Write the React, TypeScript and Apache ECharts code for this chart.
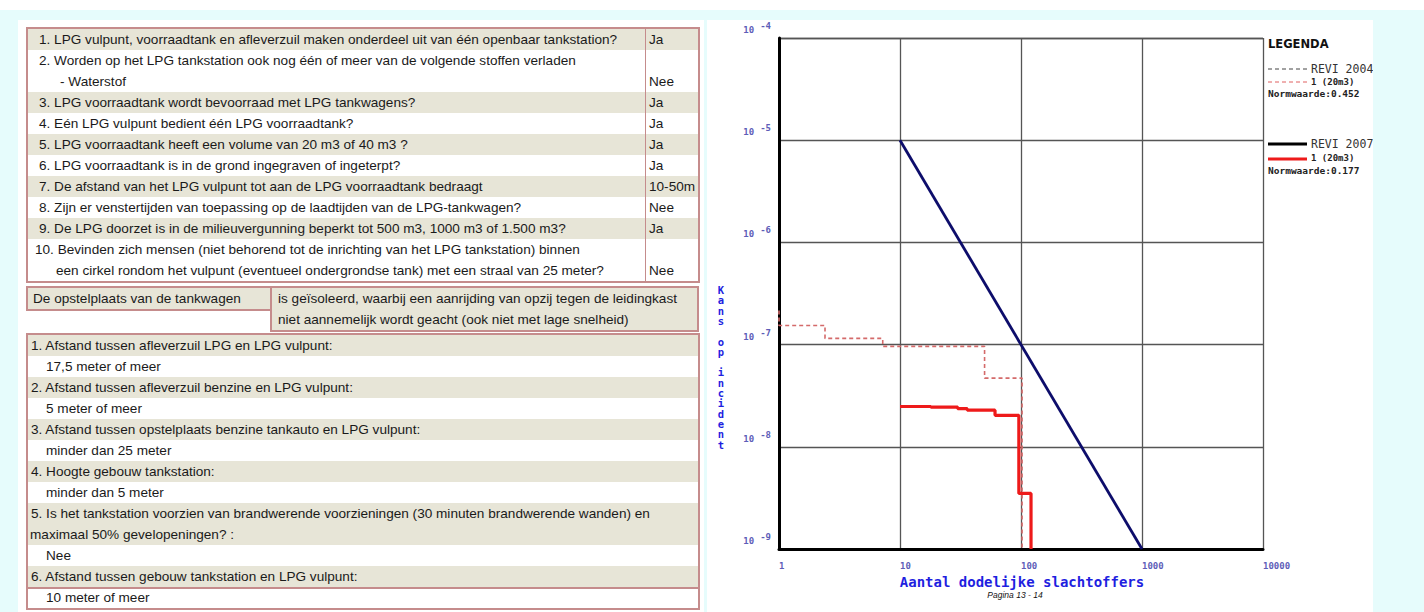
import React, { useEffect, useRef } from "react";
import * as echarts from "echarts";

// ---------- checklist content ----------
const checklistItems = [
  { lines: ["1. LPG vulpunt, voorraadtank en afleverzuil maken onderdeel uit van één openbaar tankstation?"], answer: "Ja" },
  { lines: ["2. Worden op het LPG tankstation ook nog één of meer van de volgende stoffen verladen", "- Waterstof"], answer: "Nee" },
  { lines: ["3. LPG voorraadtank wordt bevoorraad met LPG tankwagens?"], answer: "Ja" },
  { lines: ["4. Eén LPG vulpunt bedient één LPG voorraadtank?"], answer: "Ja" },
  { lines: ["5. LPG voorraadtank heeft een volume van 20 m3 of 40 m3 ?"], answer: "Ja" },
  { lines: ["6. LPG voorraadtank is in de grond ingegraven of ingeterpt?"], answer: "Ja" },
  { lines: ["7. De afstand van het LPG vulpunt tot aan de LPG voorraadtank bedraagt"], answer: "10-50m" },
  { lines: ["8. Zijn er venstertijden van toepassing op de laadtijden van de LPG-tankwagen?"], answer: "Nee" },
  { lines: ["9. De LPG doorzet is in de milieuvergunning beperkt tot 500 m3, 1000 m3 of 1.500 m3?"], answer: "Ja" },
  {
    lines: [
      "10. Bevinden zich mensen (niet behorend tot de inrichting van het LPG tankstation) binnen",
      "een cirkel rondom het vulpunt (eventueel ondergrondse tank) met een straal van 25 meter?",
    ],
    answer: "Nee",
  },
];

const standPlaceLabel = "De opstelplaats van de tankwagen";
const standPlaceText = [
  "is geïsoleerd, waarbij een aanrijding van opzij tegen de leidingkast",
  "niet aannemelijk wordt geacht (ook niet met lage snelheid)",
];

const distanceItems = [
  { lines: ["1. Afstand tussen afleverzuil LPG en LPG vulpunt:"], answer: "17,5 meter of meer" },
  { lines: ["2. Afstand tussen afleverzuil benzine en LPG vulpunt:"], answer: "5 meter of meer" },
  { lines: ["3. Afstand tussen opstelplaats benzine tankauto en LPG vulpunt:"], answer: "minder dan 25 meter" },
  { lines: ["4. Hoogte gebouw tankstation:"], answer: "minder dan 5 meter" },
  {
    lines: [
      "5. Is het tankstation voorzien van brandwerende voorzieningen (30 minuten brandwerende wanden) en",
      "maximaal 50% gevelopeningen? :",
    ],
    answer: "Nee",
  },
  { lines: ["6. Afstand tussen gebouw tankstation en LPG vulpunt:"], answer: "10 meter of meer" },
];

// ---------- FN-curve data (aantal slachtoffers N, kans op incident F) ----------
const xTickValues = [1, 10, 100, 1000, 10000];
const yTickValues = [1e-9, 1e-8, 1e-7, 1e-6, 1e-5, 1e-4];

// REVI 2007 oriëntatiewaarde: 1e-5 at N=10, slope -2
const norm2007N = [10, 1000];
const norm2007F = [1e-5, 1e-9];

// REVI 2004 curve, 1 (20m3)
const revi2004N = [1, 1, 2.4, 7.2, 50, 102];
const revi2004F = [2.15e-7, 1.54e-7, 1.15e-7, 9.6e-8, 4.7e-8, 1e-9];

// REVI 2007 curve, 1 (20m3)
const revi2007N = [10, 18, 30, 36, 61, 96, 121];
const revi2007F = [2.48e-8, 2.44e-8, 2.36e-8, 2.28e-8, 2.03e-8, 3.5e-9, 1e-9];

const legendEntries2004 = { title: "REVI 2004", sub: "1 (20m3)", norm: "Normwaarde:0.452" };
const legendEntries2007 = { title: "REVI 2007", sub: "1 (20m3)", norm: "Normwaarde:0.177" };

const yTitle = "Kans op incident";
const xTitle = "Aantal dodelijke slachtoffers";
const pageLabel = "Pagina 13 - 14";

// ---------- styling ----------
const FONT = '"Liberation Sans", Arial, sans-serif';
const ROW = 21;
const SHADE = "#e7e5d7";
const BORDER = "#c58c8c";
const PAGE_BG = "#e6fcfc";
const MONO = '"DejaVu Sans Mono", monospace';

const zip = (a: number[], b: number[]) => a.map((v, i) => [v, b[i]]);

const textLine: React.CSSProperties = {
  position: "absolute",
  whiteSpace: "nowrap",
  lineHeight: ROW + "px",
  height: ROW,
};

function Checklist() {
  let y = 0;
  const rows = checklistItems.map((item, i) => {
    const h = item.lines.length * ROW;
    const top = y;
    y += h;
    const indent = /^\d\./.test(item.lines[0]) ? 11 : 7;
    return (
      <div
        key={i}
        style={{ position: "absolute", left: 0, top, width: "100%", height: h, background: i % 2 === 0 ? SHADE : "#fff" }}
      >
        {item.lines.map((l, j) => (
          <div key={j} style={{ ...textLine, left: j === 0 ? indent : indent + 21, top: j * ROW }}>
            {l}
          </div>
        ))}
        <div style={{ ...textLine, left: 621, top: h - ROW }}>{item.answer}</div>
      </div>
    );
  });
  return (
    <div
      style={{
        position: "absolute",
        left: 26,
        top: 27,
        width: 670,
        height: y,
        border: `2px solid ${BORDER}`,
        background: "#fff",
      }}
    >
      {rows}
      <div style={{ position: "absolute", left: 617, top: 0, width: 1, height: "100%", background: BORDER }} />
    </div>
  );
}

function StandPlace() {
  return (
    <>
      <div
        style={{
          position: "absolute",
          left: 26,
          top: 286,
          width: 244,
          height: ROW,
          border: `2px solid ${BORDER}`,
          background: SHADE,
        }}
      >
        <div style={{ ...textLine, left: 5, top: 0 }}>{standPlaceLabel}</div>
      </div>
      <div
        style={{
          position: "absolute",
          left: 270,
          top: 286,
          width: 425,
          height: ROW * standPlaceText.length,
          border: `2px solid ${BORDER}`,
          background: SHADE,
        }}
      >
        {standPlaceText.map((l, j) => (
          <div key={j} style={{ ...textLine, left: 6, top: j * ROW }}>
            {l}
          </div>
        ))}
      </div>
    </>
  );
}

function Distances() {
  let y = 0;
  const blocks: React.ReactNode[] = [];
  distanceItems.forEach((item, i) => {
    const qh = item.lines.length * ROW;
    blocks.push(
      <div key={"q" + i} style={{ position: "absolute", left: 0, top: y, width: "100%", height: qh, background: SHADE }}>
        {item.lines.map((l, j) => (
          <div key={j} style={{ ...textLine, left: j === 0 ? 3 : 2, top: j * ROW }}>
            {l}
          </div>
        ))}
      </div>
    );
    y += qh;
    const last = i === distanceItems.length - 1;
    blocks.push(
      <div
        key={"a" + i}
        style={{
          position: "absolute",
          left: 0,
          top: y,
          width: "100%",
          height: ROW,
          background: "#fff",
          borderTop: last ? `2px solid ${BORDER}` : "none",
          boxSizing: "border-box",
        }}
      >
        <div style={{ ...textLine, left: 18, top: last ? -2 : 0 }}>{item.answer}</div>
      </div>
    );
    y += ROW;
  });
  return (
    <div
      style={{
        position: "absolute",
        left: 26,
        top: 333,
        width: 670,
        height: y,
        border: `2px solid ${BORDER}`,
        background: "#fff",
      }}
    >
      {blocks}
    </div>
  );
}

function FnChart() {
  const ref = useRef<HTMLDivElement>(null);
  useEffect(() => {
    if (!ref.current) return;
    const chart = echarts.init(ref.current, null, { renderer: "svg" });
    const labelColor = "#5d5db8";
    const titleColor = "#1f1fe0";
    const lx = 561; // legend left

    // vertical axis title: one upright letter per row
    const letterStep = 10.3;
    const yTitleLetters = yTitle.split("").map((ch, i) => ({
      type: "text",
      x: 14,
      y: 270 + i * letterStep,
      silent: true,
      style: {
        text: ch,
        font: `bold 10.5px ${MONO}`,
        fill: titleColor,
        align: "center",
        verticalAlign: "middle",
      },
    }));

    chart.setOption({
      animation: false,
      backgroundColor: "#ffffff",
      grid: { left: 72, top: 18, width: 484, height: 511 },
      xAxis: {
        type: "log",
        logBase: 10,
        min: xTickValues[0],
        max: xTickValues[xTickValues.length - 1],
        axisLine: { show: true, onZero: false, lineStyle: { color: "#000", width: 3 } },
        axisTick: { show: false },
        splitLine: { show: true, lineStyle: { color: "#555", width: 1.3 } },
        axisLabel: {
          formatter: (v: number) => String(Math.round(v)),
          align: "left",
          margin: 12,
          fontSize: 9,
          fontWeight: "bold",
          fontFamily: MONO,
          color: labelColor,
          showMinLabel: true,
          showMaxLabel: true,
        },
      },
      yAxis: {
        type: "log",
        logBase: 10,
        min: yTickValues[0],
        max: yTickValues[yTickValues.length - 1],
        axisLine: { show: true, onZero: false, lineStyle: { color: "#000", width: 3 } },
        axisTick: { show: false },
        splitLine: { show: true, lineStyle: { color: "#555", width: 1.3 } },
        axisLabel: {
          formatter: (v: number) => `{b|10}{s|${Math.round(Math.log10(v))}}`,
          align: "right",
          verticalAlign: "bottom",
          margin: 8,
          showMinLabel: true,
          showMaxLabel: true,
          rich: {
            b: { fontSize: 9, fontFamily: MONO, fontWeight: "bold", color: labelColor, lineHeight: 16, padding: [0, 6, 0, 0] },
            s: { fontSize: 9, fontFamily: MONO, fontWeight: "bold", color: labelColor, lineHeight: 8, padding: [0, 0, 8, 0] },
          },
        },
      },
      series: [
        {
          name: "REVI 2004 1 (20m3)",
          type: "line",
          step: "end",
          symbol: "none",
          silent: true,
          clip: false,
          data: zip(revi2004N, revi2004F),
          lineStyle: { color: "#d46a6a", width: 1.6, type: [4, 3] },
          z: 5,
        },
        {
          name: "REVI 2007 norm",
          type: "line",
          symbol: "none",
          silent: true,
          data: zip(norm2007N, norm2007F),
          lineStyle: { color: "#0d0d6b", width: 2.8 },
          z: 6,
        },
        {
          name: "REVI 2007 1 (20m3)",
          type: "line",
          step: "end",
          symbol: "none",
          silent: true,
          data: zip(revi2007N, revi2007F),
          lineStyle: { color: "#ee1a1a", width: 3.2 },
          z: 7,
        },
      ],
      graphic: [
        ...yTitleLetters,
        {
          type: "text",
          x: 315,
          y: 562,
          style: { text: xTitle, font: `bold 14px ${MONO}`, fill: titleColor, align: "center", verticalAlign: "middle" },
        },
        {
          type: "text",
          x: 308,
          y: 575,
          style: { text: pageLabel, font: `italic 8.5px ${FONT}`, fill: "#111", align: "center", verticalAlign: "middle" },
        },
        {
          type: "text",
          x: lx,
          y: 24,
          style: { text: "LEGENDA", font: 'bold 11.5px "DejaVu Sans"', fill: "#111", verticalAlign: "middle" },
        },
        // REVI 2004 block
        { type: "line", shape: { x1: lx, y1: 49, x2: lx + 39, y2: 49 }, style: { stroke: "#444", lineWidth: 1, lineDash: [4, 3] } },
        {
          type: "text",
          x: lx + 43,
          y: 49,
          style: { text: legendEntries2004.title, font: `11.5px ${MONO}`, fill: "#333", verticalAlign: "middle" },
        },
        { type: "line", shape: { x1: lx, y1: 62, x2: lx + 39, y2: 62 }, style: { stroke: "#e06060", lineWidth: 1, lineDash: [4, 3] } },
        {
          type: "text",
          x: lx + 43,
          y: 62,
          style: { text: legendEntries2004.sub, font: `bold 9px ${MONO}`, fill: "#222", verticalAlign: "middle" },
        },
        {
          type: "text",
          x: lx,
          y: 73,
          style: { text: legendEntries2004.norm, font: `bold 9.5px ${MONO}`, fill: "#222", verticalAlign: "middle" },
        },
        // REVI 2007 block
        { type: "line", shape: { x1: lx, y1: 124, x2: lx + 39, y2: 124 }, style: { stroke: "#000", lineWidth: 3 } },
        {
          type: "text",
          x: lx + 43,
          y: 124,
          style: { text: legendEntries2007.title, font: `11.5px ${MONO}`, fill: "#333", verticalAlign: "middle" },
        },
        { type: "line", shape: { x1: lx, y1: 139, x2: lx + 39, y2: 139 }, style: { stroke: "#ee1a1a", lineWidth: 3 } },
        {
          type: "text",
          x: lx + 43,
          y: 138,
          style: { text: legendEntries2007.sub, font: `bold 9px ${MONO}`, fill: "#222", verticalAlign: "middle" },
        },
        {
          type: "text",
          x: lx,
          y: 150,
          style: { text: legendEntries2007.norm, font: `bold 9.5px ${MONO}`, fill: "#222", verticalAlign: "middle" },
        },
      ],
    });
    return () => chart.dispose();
  }, []);
  return (
    <div
      ref={ref}
      style={{ position: "absolute", left: 707, top: 20, width: 666, height: 592, background: "#fff", overflow: "hidden" }}
    />
  );
}

export default function App() {
  return (
    <div
      style={{
        position: "fixed",
        left: 0,
        top: 0,
        width: 1424,
        height: 612,
        background: PAGE_BG,
        overflow: "hidden",
        fontFamily: FONT,
        fontSize: "13.6px",
        color: "#1a1a1a",
      }}
    >
      <div style={{ position: "absolute", left: 0, top: 0, width: 1424, height: 10, background: "#fff" }} />
      <div style={{ position: "absolute", left: 18, top: 20, width: 686, height: 592, background: "#fff" }}>
        <div style={{ position: "absolute", left: -18, top: -20 }}>
          <Checklist />
          <StandPlace />
          <Distances />
        </div>
      </div>
      <FnChart />
    </div>
  );
}
